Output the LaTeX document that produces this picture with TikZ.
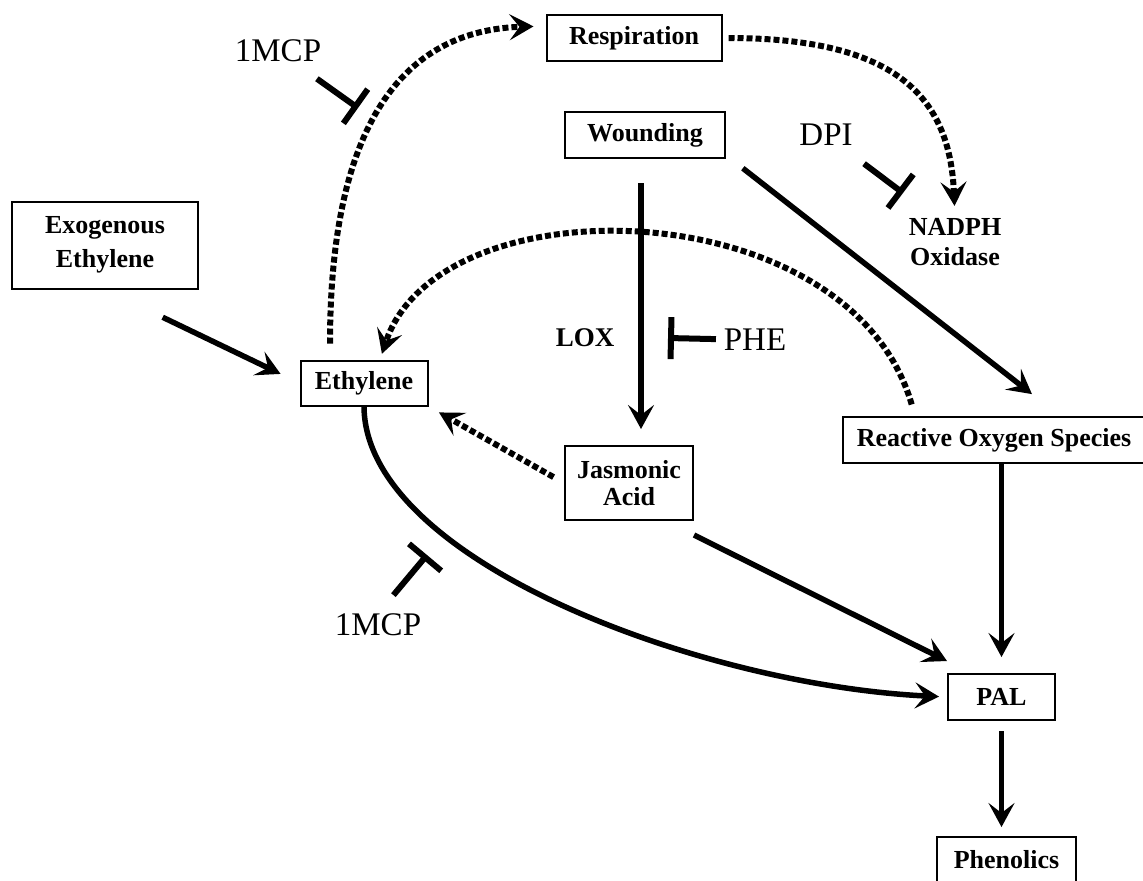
\documentclass[tikz,border=0pt]{standalone}
\usepackage{fontspec}
\setmainfont{Liberation Serif}
\usetikzlibrary{arrows.meta}
\begin{document}
\begin{tikzpicture}[x=0.5pt, y=-0.5pt,
    box/.style={draw, line width=1pt, inner sep=0pt, align=center, font=\fontsize{13}{15}\selectfont\bfseries},
    lbl/.style={inner sep=0pt, font=\fontsize{16.5}{18}\selectfont},
    act/.style={line width=2.75pt, -{Stealth[length=12pt,width=13pt,inset=5pt]}},
    dots/.style={line width=3pt, dash pattern=on 3pt off 1.5pt, -{Stealth[length=12pt,width=13pt,inset=5pt]}},
    inhib/.style={line width=3pt, -{Bar[width=21pt]}}]
\useasboundingbox (0,0) rectangle (1143,880);
\node[box, minimum width=87.5pt, minimum height=23pt] (resp) at (634,38) {Respiration};
\node[box, minimum width=80pt, minimum height=23pt] (wound) at (645,135) {Wounding};
\node[box, minimum width=93pt, minimum height=43.5pt, font=\fontsize{13}{17}\selectfont\bfseries] (exo) at (105,245) {Exogenous\\Ethylene};
\node[box, minimum width=63.5pt, minimum height=22.5pt] (eth) at (364,383) {Ethylene};
\node[box, minimum width=64pt, minimum height=37pt, font=\fontsize{13}{13.5}\selectfont\bfseries] (jas) at (629,483) {Jasmonic\\Acid};
\node[box, minimum width=151pt, minimum height=23pt] (ros) at (994,440) {Reactive Oxygen Species};
\node[box, minimum width=53.5pt, minimum height=23pt] (pal) at (1001.5,697) {PAL};
\node[box, minimum width=69.5pt, minimum height=23pt] (phen) at (1006.5,860) {Phenolics};
\node[inner sep=0pt, align=center, font=\fontsize{13}{15}\selectfont\bfseries] (nadph) at (955,242) {NADPH\\Oxidase};
\node[inner sep=0pt, font=\fontsize{13.5}{15}\selectfont\bfseries] (lox) at (585,338) {LOX};
\node[lbl] (mcpa) at (278,51) {1MCP};
\node[lbl] (mcpb) at (378,625) {1MCP};
\node[lbl] (dpi) at (826,135) {DPI};
\node[lbl] (phe) at (755,340) {PHE};
\coordinate (t1) at (358,108);
\coordinate (t2) at (903,193);
\coordinate (t3) at (668,338);
\coordinate (t4) at (427,555);
\draw[act, shorten <=32pt, shorten >=10.5pt] (exo.south) -- (eth.west);
\draw[act, shorten <=12pt, shorten >=8pt] ([xshift=-2pt]wound.south) -- ([xshift=6pt]jas.north);
\draw[act, shorten <=7.5pt, shorten >=17.8pt] ([xshift=2.5pt]wound.south east) -- ([xshift=33pt]ros.north);
\draw[act, shorten >=8pt] (ros.south -| pal) -- (pal.north);
\draw[act, shorten <=5pt, shorten >=4.5pt] (pal.south) -- (pal.south |- phen.north);
\draw[act] ([yshift=-7pt]jas.south east) -- ([yshift=6pt]pal.north west);
\draw[act, shorten >=4pt] (eth.south) .. controls (365,560) and (700,685) .. (pal.west);
\draw[dots, shorten <=6pt, shorten >=6pt] (jas.west) -- (eth.south east);
\draw[dots, shorten <=6pt, shorten >=3pt] ([xshift=-39.5pt]ros.north) .. controls (850,190) and (440,180) .. ([xshift=8pt]eth.north);
\draw[dots, shorten <=8pt, shorten >=6pt] ([xshift=-17pt]eth.north) .. controls (330,100) and (420,30) .. ([yshift=6pt]resp.west);
\draw[dots, shorten <=3pt, shorten >=6pt] (resp.east) .. controls (900,38) and (950,100) .. (nadph.north);
\draw[inhib, shorten <=14pt] (mcpa) -- (t1);
\draw[inhib, shorten <=14.5pt] (dpi) -- (t2);
\draw[inhib, shorten <=3.75pt] (phe) -- (t3);
\draw[inhib, shorten <=12pt] (mcpb.north) -- (t4);
\end{tikzpicture}
\end{document}
